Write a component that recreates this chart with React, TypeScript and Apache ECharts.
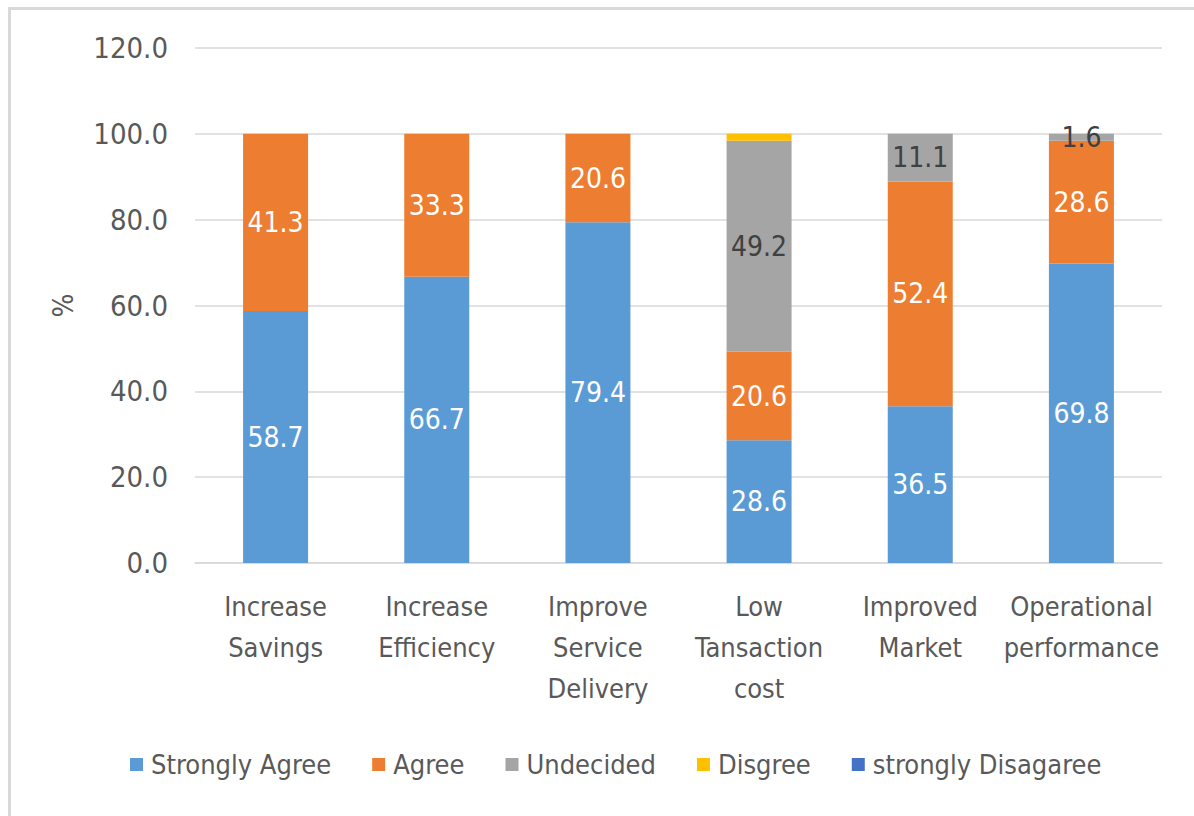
import React, { useEffect, useRef } from "react";
import * as echarts from "echarts";

const categories = [
  "Increase\nSavings",
  "Increase\nEfficiency",
  "Improve\nService\nDelivery",
  "Low\nTansaction\ncost",
  "Improved\nMarket",
  "Operational\nperformance",
];
const strongAgree = [58.7, 66.7, 79.4, 28.6, 36.5, 69.8];
const agree = [41.3, 33.3, 20.6, 20.6, 52.4, 28.6];
const undecided = [0, 0, 0, 49.2, 11.1, 1.6];
const disagree = [0, 0, 0, 1.6, 0, 0];
const strongDisagree = [0, 0, 0, 0, 0, 0];
const seriesNames = ["Strongly Agree", "Agree", "Undecided", "Disgree", "strongly Disagaree"];
const yTicks = { min: 0, max: 120, interval: 20 };

const FONT = "'Liberation Sans Narrow', 'DejaVu Sans Condensed', 'Open Sans', sans-serif";

export default function App() {
  const ref = useRef<HTMLDivElement>(null);
  useEffect(() => {
    if (!ref.current) return;
    const chart = echarts.init(ref.current, undefined, { renderer: "svg" });
    const mkLabel = (color: string, show: boolean) => ({
      show,
      position: "inside" as const,
      color,
      fontSize: 28,
      fontFamily: FONT,
      formatter: (p: any) => (p.value > 0 ? Number(p.value).toFixed(1) : ""),
    });
    const datasets = [strongAgree, agree, undecided, disagree, strongDisagree];
    const colors = ["#5B9BD5", "#ED7D31", "#A5A5A5", "#FFC000", "#4472C4"];
    const labelColors = ["#ffffff", "#ffffff", "#404040", "#404040", "#ffffff"];
    const labelShow = [true, true, true, false, false];
    chart.setOption({
      animation: false,
      textStyle: { fontFamily: FONT },
      grid: { left: 195, right: 32, top: 48, bottom: 253 },
      legend: {
        bottom: 33,
        left: 125,
        itemWidth: 13,
        itemHeight: 13,
        itemGap: 41,
        icon: "rect",
        textStyle: { fontSize: 27, color: "#595959", fontFamily: FONT, padding: [0, 0, 0, 3] },
        data: seriesNames,
      },
      xAxis: {
        type: "category",
        data: categories,
        axisLine: { lineStyle: { color: "#d9d9d9", width: 1.5 } },
        axisTick: { show: false },
        axisLabel: {
          interval: 0,
          color: "#595959",
          fontSize: 27,
          lineHeight: 41,
          margin: 23,
          fontFamily: FONT,
        },
      },
      yAxis: {
        type: "value",
        min: yTicks.min,
        max: yTicks.max,
        interval: yTicks.interval,
        name: "%",
        nameLocation: "middle",
        nameGap: 118,
        nameRotate: 90,
        nameTextStyle: { fontSize: 28, color: "#595959", fontFamily: FONT },
        axisLine: { show: false },
        axisTick: { show: false },
        splitLine: { lineStyle: { color: "#d9d9d9", width: 1.5 } },
        axisLabel: {
          color: "#595959",
          fontSize: 29,
          margin: 27,
          fontFamily: FONT,
          formatter: (v: number) => v.toFixed(1),
        },
      },
      series: seriesNames.map((name, i) => ({
        name,
        type: "bar",
        stack: "total",
        barWidth: 65,
        data: datasets[i],
        itemStyle: { color: colors[i] },
        label: mkLabel(labelColors[i], labelShow[i]),
      })),
    });
    return () => chart.dispose();
  }, []);
  return (
    <div style={{ position: "fixed", left: 0, top: 0, width: 1194, height: 816, overflow: "hidden", background: "#fff" }}>
      <div
        style={{
          position: "absolute",
          left: 8,
          top: 7,
          width: 1400,
          height: 1000,
          border: "3px solid #d9d9d9",
          boxSizing: "border-box",
        }}
      />
      <div ref={ref} style={{ position: "absolute", left: 0, top: 0, width: 1194, height: 816 }} />
    </div>
  );
}
